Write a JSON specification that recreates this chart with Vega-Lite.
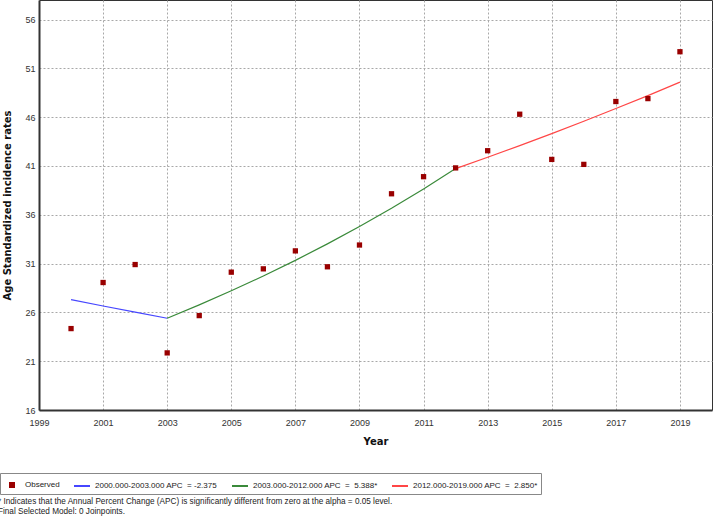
{
  "$schema": "https://vega.github.io/schema/vega-lite/v6.json",
  "width": 673,
  "height": 410,
  "autosize": {"type": "none"},
  "padding": {"left": 39, "top": 0, "right": 2, "bottom": 107},
  "background": "white",
  "config": {
    "view": {"stroke": "#333333", "strokeWidth": 1},
    "font": "Liberation Sans"
  },
  "title": {
    "text": ["* Indicates that the Annual Percent Change (APC) is significantly different from zero at the alpha = 0.05 level.", "Final Selected Model: 0 Joinpoints."],
    "orient": "bottom",
    "anchor": "start",
    "frame": "group",
    "dx": -41,
    "offset": 3,
    "font": "Liberation Sans",
    "fontSize": 8.2,
    "fontWeight": "normal",
    "lineHeight": 10.5,
    "color": "#222222"
  },
  "datasets": {
    "obs": [
      {"year": 2000, "value": 24.34, "series": "Observed"},
      {"year": 2001, "value": 29.06, "series": "Observed"},
      {"year": 2002, "value": 30.9, "series": "Observed"},
      {"year": 2003, "value": 21.85, "series": "Observed"},
      {"year": 2004, "value": 25.67, "series": "Observed"},
      {"year": 2005, "value": 30.12, "series": "Observed"},
      {"year": 2006, "value": 30.46, "series": "Observed"},
      {"year": 2007, "value": 32.3, "series": "Observed"},
      {"year": 2008, "value": 30.67, "series": "Observed"},
      {"year": 2009, "value": 32.9, "series": "Observed"},
      {"year": 2010, "value": 38.15, "series": "Observed"},
      {"year": 2011, "value": 39.9, "series": "Observed"},
      {"year": 2012, "value": 40.8, "series": "Observed"},
      {"year": 2013, "value": 42.56, "series": "Observed"},
      {"year": 2014, "value": 46.3, "series": "Observed"},
      {"year": 2015, "value": 41.67, "series": "Observed"},
      {"year": 2016, "value": 41.16, "series": "Observed"},
      {"year": 2017, "value": 47.6, "series": "Observed"},
      {"year": 2018, "value": 47.9, "series": "Observed"},
      {"year": 2019, "value": 52.7, "series": "Observed"}
    ],
    "fit": [
      {"year": 2000, "value": 27.3, "series": "2000.000-2003.000 APC\u00a0\u00a0=\u00a0-2.375"},
      {"year": 2001, "value": 26.65, "series": "2000.000-2003.000 APC\u00a0\u00a0=\u00a0-2.375"},
      {"year": 2002, "value": 26.02, "series": "2000.000-2003.000 APC\u00a0\u00a0=\u00a0-2.375"},
      {"year": 2003, "value": 25.4, "series": "2000.000-2003.000 APC\u00a0\u00a0=\u00a0-2.375"},
      {"year": 2003, "value": 25.4, "series": "2003.000-2012.000 APC\u00a0\u00a0=\u00a0\u00a05.388*"},
      {"year": 2004, "value": 26.77, "series": "2003.000-2012.000 APC\u00a0\u00a0=\u00a0\u00a05.388*"},
      {"year": 2005, "value": 28.21, "series": "2003.000-2012.000 APC\u00a0\u00a0=\u00a0\u00a05.388*"},
      {"year": 2006, "value": 29.73, "series": "2003.000-2012.000 APC\u00a0\u00a0=\u00a0\u00a05.388*"},
      {"year": 2007, "value": 31.33, "series": "2003.000-2012.000 APC\u00a0\u00a0=\u00a0\u00a05.388*"},
      {"year": 2008, "value": 33.02, "series": "2003.000-2012.000 APC\u00a0\u00a0=\u00a0\u00a05.388*"},
      {"year": 2009, "value": 34.8, "series": "2003.000-2012.000 APC\u00a0\u00a0=\u00a0\u00a05.388*"},
      {"year": 2010, "value": 36.67, "series": "2003.000-2012.000 APC\u00a0\u00a0=\u00a0\u00a05.388*"},
      {"year": 2011, "value": 38.65, "series": "2003.000-2012.000 APC\u00a0\u00a0=\u00a0\u00a05.388*"},
      {"year": 2012, "value": 40.73, "series": "2003.000-2012.000 APC\u00a0\u00a0=\u00a0\u00a05.388*"},
      {"year": 2012, "value": 40.73, "series": "2012.000-2019.000 APC\u00a0\u00a0=\u00a0\u00a02.850*"},
      {"year": 2013, "value": 41.89, "series": "2012.000-2019.000 APC\u00a0\u00a0=\u00a0\u00a02.850*"},
      {"year": 2014, "value": 43.08, "series": "2012.000-2019.000 APC\u00a0\u00a0=\u00a0\u00a02.850*"},
      {"year": 2015, "value": 44.31, "series": "2012.000-2019.000 APC\u00a0\u00a0=\u00a0\u00a02.850*"},
      {"year": 2016, "value": 45.58, "series": "2012.000-2019.000 APC\u00a0\u00a0=\u00a0\u00a02.850*"},
      {"year": 2017, "value": 46.88, "series": "2012.000-2019.000 APC\u00a0\u00a0=\u00a0\u00a02.850*"},
      {"year": 2018, "value": 48.21, "series": "2012.000-2019.000 APC\u00a0\u00a0=\u00a0\u00a02.850*"},
      {"year": 2019, "value": 49.59, "series": "2012.000-2019.000 APC\u00a0\u00a0=\u00a0\u00a02.850*"}
    ]
  },
  "encoding": {
    "x": {
      "field": "year", "type": "quantitative",
      "scale": {"domain": [1999, 2020], "nice": false, "zero": false},
      "axis": {
        "values": [1999, 2001, 2003, 2005, 2007, 2009, 2011, 2013, 2015, 2017, 2019],
        "format": "d",
        "title": "Year",
        "titleFont": "DejaVu Sans", "titleFontSize": 10, "titleFontWeight": "bold", "titleColor": "#111111",
        "titlePadding": 9,
        "labelFont": "Liberation Sans", "labelFontSize": 9, "labelColor": "#333333",
        "labelPadding": 8, "labelFlush": false,
        "ticks": false,
        "domainColor": "#333333", "domainWidth": 2,
        "grid": true, "gridColor": "#a8a8a8", "gridDash": [2, 2], "gridWidth": 1
      }
    },
    "y": {
      "field": "value", "type": "quantitative",
      "scale": {"domain": [16, 58], "nice": false, "zero": false},
      "axis": {
        "values": [16, 21, 26, 31, 36, 41, 46, 51, 56],
        "title": "Age Standardized incidence rates",
        "titleFont": "DejaVu Sans", "titleFontSize": 10, "titleFontWeight": "bold", "titleColor": "#111111",
        "titlePadding": 12,
        "labelFont": "Liberation Sans", "labelFontSize": 9, "labelColor": "#333333",
        "labelPadding": 4, "labelFlush": false,
        "ticks": false,
        "domainColor": "#333333", "domainWidth": 2,
        "grid": true, "gridColor": "#a8a8a8", "gridDash": [2, 2], "gridWidth": 1
      }
    },
    "color": {
      "field": "series", "type": "nominal",
      "scale": {
        "domain": ["Observed", "2000.000-2003.000 APC\u00a0\u00a0=\u00a0-2.375", "2003.000-2012.000 APC\u00a0\u00a0=\u00a0\u00a05.388*", "2012.000-2019.000 APC\u00a0\u00a0=\u00a0\u00a02.850*"],
        "range": ["#990000", "#4646ff", "#3a8a3a", "#ff4646"]
      },
      "legend": {
        "title": null,
        "orient": "none",
        "direction": "horizontal",
        "legendX": -39,
        "legendY": 473,
        "strokeColor": "#888888",
        "fillColor": "white",
        "padding": 3,
        "columnPadding": 10,
        "symbolSize": 256,
        "symbolType": "stroke",
        "symbolStrokeWidth": 2,
        "labelOffset": 4,
        "labelFont": "Liberation Sans",
        "labelFontSize": 8,
        "labelColor": "#222222",
        "labelLimit": 300,
        "encode": {
          "symbols": {
            "update": {
              "shape": {"signal": "datum.value === 'Observed' ? 'square' : 'stroke'"},
              "size": {"signal": "datum.value === 'Observed' ? 16 : 256"},
              "fill": {"signal": "datum.value === 'Observed' ? '#990000' : 'transparent'"},
              "stroke": {"signal": "datum.value === 'Observed' ? 'transparent' : (datum.value[2] === '0' && datum.value[3] === '0' ? '#0000ff' : (datum.value[3] === '3' ? '#007000' : '#ff0000'))"},
              "strokeWidth": {"value": 2}
            }
          }
        }
      }
    }
  },
  "layer": [
    {
      "data": {"name": "fit"},
      "mark": {"type": "line", "strokeWidth": 1.2},
      "encoding": {"detail": {"field": "series"}}
    },
    {
      "data": {"name": "obs"},
      "mark": {"type": "square", "size": 28, "opacity": 1, "filled": true}
    }
  ]
}
